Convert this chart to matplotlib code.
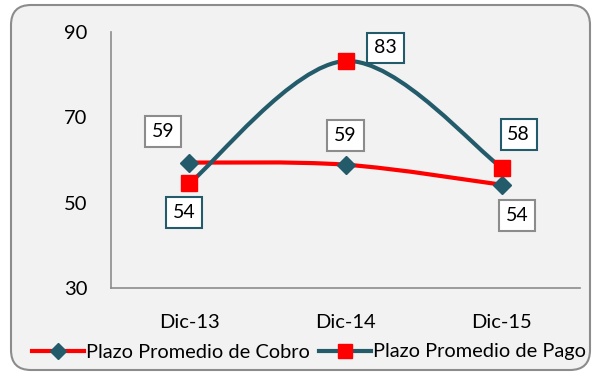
import numpy as np
import matplotlib
matplotlib.use("Agg")
import matplotlib.pyplot as plt
from matplotlib.path import Path
from matplotlib.patches import PathPatch, FancyBboxPatch
from matplotlib.lines import Line2D

plt.rcParams["font.family"] = ["Lato", "DejaVu Sans"]

categories = ["Dic-13", "Dic-14", "Dic-15"]
cobro = [59.4, 58.9, 54.2]
pago = [54.5, 83.2, 58.2]
cobro_labels = ["59", "59", "54"]
pago_labels = ["54", "83", "58"]
y_ticks = [30, 50, 70, 90]

RED = "#FF0000"
TEAL = "#245B6B"
GRAY = "#8C8C8C"

# label offsets in points, per point
cobro_off = [(-18.7, 22.3), (0, 20.9), (10.8, -22.3)]
pago_off = [(-3.6, -20.9), (28.8, 9.4), (12.2, 23.8)]


def smooth_path(xs, ys):
    # Catmull-Rom style bezier, like a smoothed spreadsheet line
    pts = np.column_stack([xs, ys]).astype(float)
    verts = [pts[0]]
    codes = [Path.MOVETO]
    n = len(pts)
    for i in range(n - 1):
        p0 = pts[max(i - 1, 0)]
        p1 = pts[i]
        p2 = pts[i + 1]
        p3 = pts[min(i + 2, n - 1)]
        c1 = p1 + (p2 - p0) / 6
        c2 = p2 - (p3 - p1) / 6
        verts += [c1, c2, p2]
        codes += [Path.CURVE4] * 3
    return Path(verts, codes)


fig = plt.figure(figsize=(5.95, 3.72), dpi=100)
fig.patch.set_facecolor("white")

frame = FancyBboxPatch((0.11, 0.02), 5.79, 3.65,
                       boxstyle="round,pad=0,rounding_size=0.2",
                       transform=fig.dpi_scale_trans,
                       facecolor="#F2F2F2", edgecolor=GRAY, linewidth=1.5,
                       zorder=-1)
fig.patches.append(frame)

ax = fig.add_axes([111 / 595, 1 - 288 / 372, 469 / 595, 256 / 372])
ax.set_facecolor("none")
ax.set_zorder(1)

x = np.arange(len(categories))

ax.add_patch(PathPatch(smooth_path(x, cobro), facecolor="none",
                       edgecolor=RED, linewidth=3, zorder=2))
ax.add_patch(PathPatch(smooth_path(x, pago), facecolor="none",
                       edgecolor=TEAL, linewidth=3, zorder=2))
ax.plot(x, cobro, linestyle="none", marker="D", markersize=9,
        color=TEAL, zorder=3)
ax.plot(x, pago, linestyle="none", marker="s", markersize=12,
        color=RED, zorder=3)

for xi, yi, lab, off in zip(x, cobro, cobro_labels, cobro_off):
    ax.annotate(lab, (xi, yi), xytext=off, textcoords="offset points",
                ha="center", va="center", fontsize=14,
                bbox=dict(boxstyle="square,pad=0.35", facecolor="white",
                          edgecolor=GRAY, linewidth=1.5), zorder=4)
for xi, yi, lab, off in zip(x, pago, pago_labels, pago_off):
    ax.annotate(lab, (xi, yi), xytext=off, textcoords="offset points",
                ha="center", va="center", fontsize=14,
                bbox=dict(boxstyle="square,pad=0.35", facecolor="white",
                          edgecolor=TEAL, linewidth=1.5), zorder=4)

ax.set_xlim(-0.5, 2.5)
ax.set_ylim(30, 90)
ax.set_xticks(x)
ax.set_xticklabels(categories)
ax.set_yticks(y_ticks)
ax.tick_params(axis="both", length=0, labelsize=14.5)
ax.tick_params(axis="x", pad=19)
ax.tick_params(axis="y", pad=17)
for side in ["top", "right"]:
    ax.spines[side].set_visible(False)
for side in ["left", "bottom"]:
    ax.spines[side].set_color(GRAY)
    ax.spines[side].set_linewidth(1.2)

handles = [
    Line2D([], [], color=RED, linewidth=3, marker="D", markersize=8,
           markerfacecolor=TEAL, markeredgecolor=TEAL),
    Line2D([], [], color=TEAL, linewidth=3, marker="s", markersize=10,
           markerfacecolor=RED, markeredgecolor=RED),
]
fig.legend(handles, ["Plazo Promedio de Cobro", "Plazo Promedio de Pago"],
           loc="center", bbox_to_anchor=(0.52, 1 - 352 / 372), ncol=2,
           frameon=False, fontsize=14.4, handlelength=2.6, handletextpad=0.1,
           columnspacing=0.45)

fig.savefig("out.png", dpi=100)
